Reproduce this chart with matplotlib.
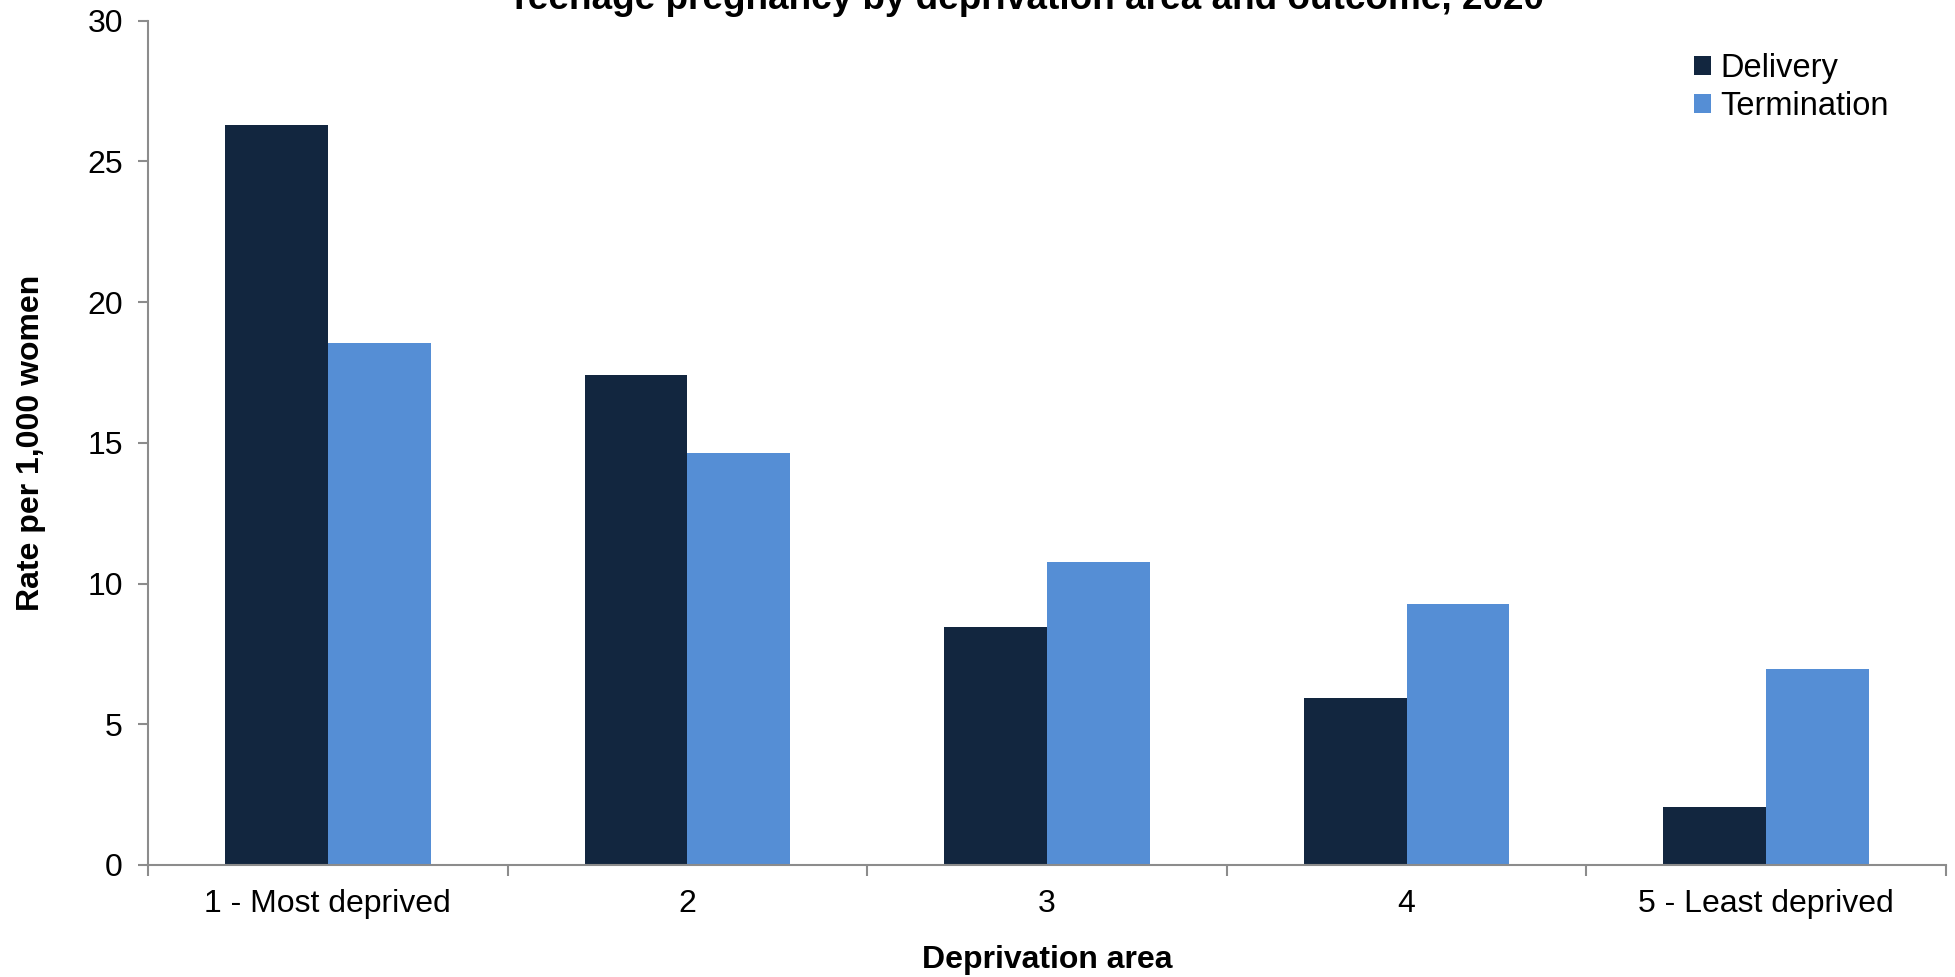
import numpy as np
import matplotlib
matplotlib.use('Agg')
import matplotlib.pyplot as plt
from matplotlib.ticker import FixedLocator, NullFormatter

plt.rcParams['font.family'] = ['Liberation Sans', 'DejaVu Sans']

areas = ['1 - Most deprived', '2', '3', '4', '5 - Least deprived']
delivery = [26.3, 17.4, 8.45, 5.95, 2.05]
termination = [18.55, 14.65, 10.75, 9.27, 6.97]
series_names = ['Delivery', 'Termination']
titulo = 'Teenage pregnancy by deprivation area and outcome, 2020'

cor_delivery = '#12263f'
cor_termination = '#558ed5'
cinza = '#8c8c8c'

fig = plt.figure(figsize=(19.56, 9.77), dpi=100)
ax = fig.add_axes([148 / 1956, 1 - 865 / 977, (1946 - 148) / 1956, (865 - 20.5) / 977])

x = np.arange(len(areas))
largura = 0.2856
ax.bar(x - largura / 2, delivery, largura, color=cor_delivery, label=series_names[0])
ax.bar(x + largura / 2, termination, largura, color=cor_termination, label=series_names[1])

ax.set_xlim(-0.5, len(areas) - 0.5)
ax.set_ylim(0, 30)
ax.set_yticks(np.arange(0, 31, 5))
ax.tick_params(axis='y', labelsize=23, length=7, width=1.5, color=cinza, pad=11)

# category labels centred, tick marks on the boundaries between groups
ax.set_xticks(x)
ax.set_xticklabels(areas)
ax.tick_params(axis='x', which='major', length=0, labelsize=23, pad=17)
ax.xaxis.set_minor_locator(FixedLocator(np.arange(-0.5, len(areas), 1.0)))
ax.xaxis.set_minor_formatter(NullFormatter())
ax.tick_params(axis='x', which='minor', length=8, width=1.5, color=cinza)

for lado in ['top', 'right']:
    ax.spines[lado].set_visible(False)
for lado in ['left', 'bottom']:
    ax.spines[lado].set_color(cinza)
    ax.spines[lado].set_linewidth(1.5)

ax.set_xlabel('Deprivation area', fontsize=23, fontweight='bold', labelpad=19)
ax.set_ylabel('Rate per 1,000 women', fontsize=23, fontweight='bold', labelpad=30)

ax.legend(loc='upper left', bbox_to_anchor=(1694 / 1956, 1 - 53 / 977),
          bbox_transform=fig.transFigure, frameon=False, fontsize=23.5,
          handlelength=0.52, handleheight=0.52, handletextpad=0.28, labelspacing=0.21,
          borderaxespad=0, borderpad=0)

fig.text(1026 / 1956, 1 - 9 / 977, titulo, ha='center', va='baseline',
         fontsize=26.6, fontweight='bold')

fig.savefig('out.png', dpi=100)
